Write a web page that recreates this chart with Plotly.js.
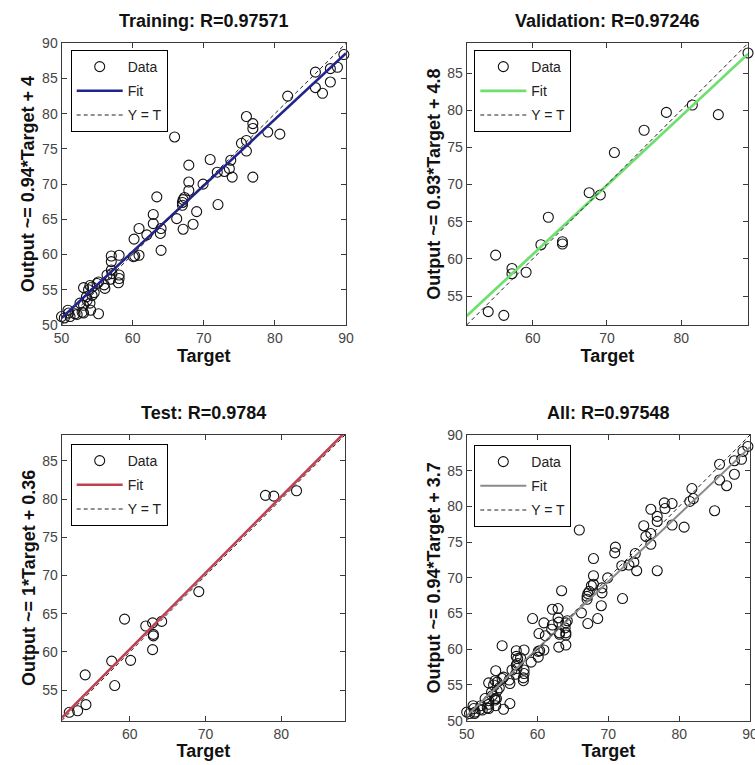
<!DOCTYPE html>
<html>
<head>
<meta charset="utf-8">
<script src="https://cdn.plot.ly/plotly-3.0.1.min.js"></script>
<style>html,body{margin:0;padding:0;background:#fff;}#plot{width:755px;height:765px;}</style>
</head>
<body>
<div id="plot"></div>
<script>
// ---------- data ----------
const trainTarget = [50.0,50.4,50.9,51.2,51.0,51.9,52.2,52.6,52.9,53.1,53.1,53.1,53.5,53.6,53.8,54.0,54.0,54.1,54.3,54.3,54.6,55.0,55.2,55.2,56.1,56.0,56.4,56.9,57.0,57.0,57.0,57.1,58.0,58.1,58.1,58.1,
  60.1,60.3,60.9,60.2,60.9,62.0,62.9,62.9,63.4,64.0,64.0,63.9,66.2,67.0,67.0,67.1,67.3,67.1,68.5,69.0,65.9,67.9,67.9,67.9,69.9,72.0,
  70.9,71.9,72.9,73.6,74.0,73.8,75.3,76.0,76.0,76.0,76.9,76.9,76.9,79.0,80.7,81.8,85.7,85.7,86.7,87.8,87.8,88.8,89.7];
const trainOutput = [51.2,51.0,52.1,51.2,51.7,51.6,51.5,53.1,51.8,52.8,51.7,55.3,54.0,53.5,55.0,53.1,55.6,52.1,55.4,54.2,54.6,55.9,51.6,56.1,55.2,55.7,57.1,56.5,57.8,59.0,59.8,57.3,56.0,56.6,57.1,59.9,
  59.7,59.8,59.9,62.2,63.7,62.8,65.7,64.4,68.2,60.6,63.7,63.0,65.1,67.0,67.4,67.8,68.1,63.6,64.3,66.1,76.7,72.7,70.3,69.1,70.0,67.1,
  73.5,71.7,71.8,72.2,71.0,73.4,75.8,76.2,74.7,79.6,78.6,77.9,71.0,77.4,77.1,82.5,85.9,83.7,82.9,86.4,84.5,86.6,88.4];

const valTarget = [51.1,54.0,56.1,55.0,57.2,57.2,59.1,61.1,62.1,64.0,64.0,67.6,69.1,71.0,75.0,78.0,81.5,85.0,89.0];
const valOutput = [51.0,52.9,52.4,60.5,58.7,58.0,58.2,61.9,65.6,62.3,62.0,68.9,68.6,74.3,77.3,79.7,80.7,79.4,87.7];

const testTarget = [52.0,53.1,54.2,54.1,57.6,58.0,59.3,60.1,62.1,63.0,63.1,63.1,63.0,64.2,69.1,77.9,79.0,82.0];
const testOutput = [52.1,52.3,53.1,57.0,58.8,55.6,64.3,58.9,63.4,63.8,62.3,62.1,60.3,64.0,67.9,80.5,80.4,81.1];

const allTarget = trainTarget.concat(valTarget, testTarget);
const allOutput = trainOutput.concat(valOutput, testOutput);

const panelTitles = ["Training: R=0.97571", "Validation: R=0.97246", "Test: R=0.9784", "All: R=0.97548"];
const yTitles = ["Output ~= 0.94*Target + 4", "Output ~= 0.93*Target + 4.8", "Output ~= 1*Target + 0.36", "Output ~= 0.94*Target + 3.7"];
const fitSlope = [0.94, 0.93, 1, 0.94];
const fitIntercept = [4, 4.8, 0.36, 3.7];
const axisLimits = [[50, 90], [51.1, 89.0], [51.0, 88.4], [50, 90]];
const xTickVals = [[50,60,70,80,90], [60,70,80], [60,70,80], [50,60,70,80,90]];
const yTickVals = [[50,55,60,65,70,75,80,85,90], [55,60,65,70,75,80,85], [55,60,65,70,75,80,85], [50,55,60,65,70,75,80,85,90]];
const legendLabels = ["Data", "Fit", "Y = T"];

// ---------- styles ----------
const fitColors = ["#23238f", "#6fe06f", "#c0404f", "#8a8a8a"];
const fitWidths = [2.6, 2.8, 2.6, 2];
const W = 755, H = 765;
const boxes = [ // pixel boxes [left, right, top, bottom]
  [61.5, 346, 43.3, 325],
  [466.7, 748, 43.3, 325],
  [61.7, 345, 435, 720.7],
  [466.7, 750, 435, 720.7]
];
const legendPos = [[70.7, 50], [474.3, 50], [70.7, 444], [474.3, 445]];
const sets = [[trainTarget, trainOutput], [valTarget, valOutput], [testTarget, testOutput], [allTarget, allOutput]];

const FONT = "Liberation Sans, Arial, Helvetica, sans-serif";
const traces = [];
const layout = {
  width: W, height: H,
  margin: {l: 0, r: 0, t: 0, b: 0},
  paper_bgcolor: "#fff", plot_bgcolor: "#fff",
  font: {family: FONT, size: 12, color: "#222"},
  annotations: [],
  showlegend: true
};

for (let i = 0; i < 4; i++) {
  const sfx = i === 0 ? "" : String(i + 1);
  const xa = "x" + sfx, ya = "y" + sfx;
  const lg = "legend" + sfx;
  const [l, r, t, b] = boxes[i];
  const lim = axisLimits[i];
  const axCommon = {
    range: lim.slice(), autorange: false,
    showgrid: false, zeroline: false,
    showline: true, linecolor: "#3a3a3a", linewidth: 1,
    mirror: "allticks", ticks: "inside", ticklen: 5, tickwidth: 1, tickcolor: "#3a3a3a",
    tickfont: {family: FONT, size: 14, color: "#444"},
    ticklabeloverflow: "allow",
    fixedrange: true
  };
  layout["xaxis" + sfx] = Object.assign({}, axCommon, {
    domain: [l / W, r / W], anchor: ya,
    tickmode: "array", tickvals: xTickVals[i], ticktext: xTickVals[i].map(String),
    title: {text: "Target", font: {family: FONT, size: 18, color: "#111", weight: "bold"}, standoff: 3}
  });
  layout["yaxis" + sfx] = Object.assign({}, axCommon, {
    domain: [1 - b / H, 1 - t / H], anchor: xa,
    tickmode: "array", tickvals: yTickVals[i], ticktext: yTickVals[i].map(String),
    title: {text: yTitles[i], font: {family: FONT, size: 18, color: "#111", weight: "bold"}, standoff: 2}
  });
  layout[lg] = {
    x: legendPos[i][0] / W, y: 1 - legendPos[i][1] / H, xanchor: "left", yanchor: "top",
    bgcolor: "#fff", bordercolor: "#000", borderwidth: 1,
    font: {family: FONT, size: 14, color: "#222"},
    tracegroupgap: 3, itemwidth: 46
  };
  layout.annotations.push({
    text: "<b>" + panelTitles[i] + "</b>", xref: "paper", yref: "paper",
    x: (l + r) / 2 / W, y: 1 - (t - 22) / H, xanchor: "center", yanchor: "middle",
    showarrow: false, font: {family: FONT, size: 18, color: "#111"}
  });

  const [tx, oy] = sets[i];
  traces.push({
    type: "scatter", mode: "markers", x: tx, y: oy, xaxis: xa, yaxis: ya,
    name: legendLabels[0], legend: lg, legendgroup: "d" + i,
    marker: {symbol: "circle-open", size: 10, color: "#111", line: {width: 1.1, color: "#111"}},
    cliponaxis: false, hoverinfo: "skip"
  });
  traces.push({
    type: "scatter", mode: "lines", x: lim.slice(), y: lim.map(v => fitSlope[i] * v + fitIntercept[i]),
    xaxis: xa, yaxis: ya, name: legendLabels[1], legend: lg, legendgroup: "f" + i,
    line: {color: fitColors[i], width: fitWidths[i]}, hoverinfo: "skip"
  });
  traces.push({
    type: "scatter", mode: "lines", x: lim.slice(), y: lim.slice(),
    xaxis: xa, yaxis: ya, name: legendLabels[2], legend: lg, legendgroup: "t" + i,
    line: {color: "#222", width: 1, dash: "4px,3px"}, hoverinfo: "skip"
  });
}

Plotly.newPlot("plot", traces, layout, {displayModeBar: false, staticPlot: true});
</script>
</body>
</html>
